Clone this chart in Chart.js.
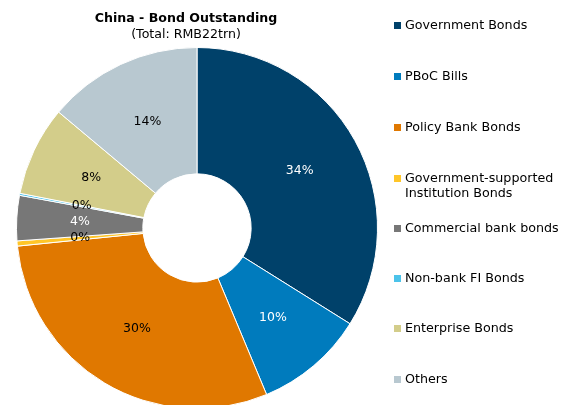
<!DOCTYPE html>
<html>
<head>
<meta charset="utf-8">
<script src="https://cdn.jsdelivr.net/npm/chart.js@4/dist/chart.umd.min.js"></script>
<style>
  html, body { margin: 0; padding: 0; background: #fff; overflow: hidden; }
  #wrap { width: 571px; height: 405px; overflow: hidden; }
</style>
</head>
<body>
<div id="wrap"><canvas id="c" width="571" height="410"></canvas></div>
<script>
// Bond market composition, share of total outstanding (%)
const categories = [
  'Government Bonds',
  'PBoC Bills',
  'Policy Bank Bonds',
  ['Government-supported', 'Institution Bonds'],
  'Commercial bank bonds',
  'Non-bank FI Bonds',
  'Enterprise Bonds',
  'Others'
];
const shares = [33.9, 9.8, 29.7, 0.46, 4.04, 0.18, 8.02, 13.9];
const sliceColors = ['#00416A', '#007BBD', '#E07800', '#FFC629', '#777777', '#4CC3EA', '#D3CD8A', '#B8C8D0'];
const labelColors = ['#ffffff', '#ffffff', '#000000', '#000000', '#ffffff', '#000000', '#000000', '#000000'];
const titleText = 'China - Bond Outstanding';
const subtitleText = '(Total: RMB22trn)';

const FONT = '"DejaVu Sans", Verdana, sans-serif';

// Percentage labels placed in the middle of each ring segment
const sliceLabels = {
  id: 'sliceLabels',
  afterDatasetsDraw(chart) {
    const ctx = chart.ctx;
    const meta = chart.getDatasetMeta(0);
    ctx.save();
    ctx.font = '12.5px ' + FONT;
    ctx.textAlign = 'center';
    ctx.textBaseline = 'middle';
    meta.data.forEach((arc, i) => {
      const p = arc.getProps(['x', 'y', 'startAngle', 'endAngle', 'innerRadius', 'outerRadius'], true);
      const a = (p.startAngle + p.endAngle) / 2;
      const r = (p.innerRadius + p.outerRadius) / 2;
      ctx.fillStyle = labelColors[i];
      ctx.fillText(Math.round(shares[i]) + '%', p.x + Math.cos(a) * r, p.y + Math.sin(a) * r);
    });
    ctx.restore();
  }
};

// Title block and side legend
const chrome = {
  id: 'chrome',
  afterDraw(chart) {
    const ctx = chart.ctx;
    ctx.save();
    ctx.fillStyle = '#000';
    ctx.textAlign = 'center';
    ctx.textBaseline = 'middle';
    ctx.font = 'bold 12.6px ' + FONT;
    ctx.fillText(titleText, 186, 19);
    ctx.font = '12.6px ' + FONT;
    ctx.fillText(subtitleText, 186, 35);

    ctx.textAlign = 'left';
    ctx.font = '12.7px ' + FONT;
    const rowY = [26, 77, 128, 179, 229, 279, 329, 380];
    categories.forEach((lab, i) => {
      const y = rowY[i];
      ctx.fillStyle = sliceColors[i];
      ctx.fillRect(394, y - 4, 7, 7);
      ctx.fillStyle = '#000';
      const lines = Array.isArray(lab) ? lab : [lab];
      lines.forEach((t, k) => ctx.fillText(t, 405, y + k * 14.5));
    });
    ctx.restore();
  }
};

new Chart(document.getElementById('c'), {
  type: 'doughnut',
  data: {
    labels: categories,
    datasets: [{
      data: shares,
      backgroundColor: sliceColors,
      borderColor: '#ffffff',
      borderWidth: 1
    }]
  },
  options: {
    responsive: false,
    animation: false,
    cutout: '30%',
    layout: { padding: { left: 16, top: 47, right: 193, bottom: 1 } },
    plugins: {
      legend: { display: false },
      tooltip: { enabled: false },
      title: { display: false }
    }
  },
  plugins: [sliceLabels, chrome]
});
</script>
</body>
</html>
